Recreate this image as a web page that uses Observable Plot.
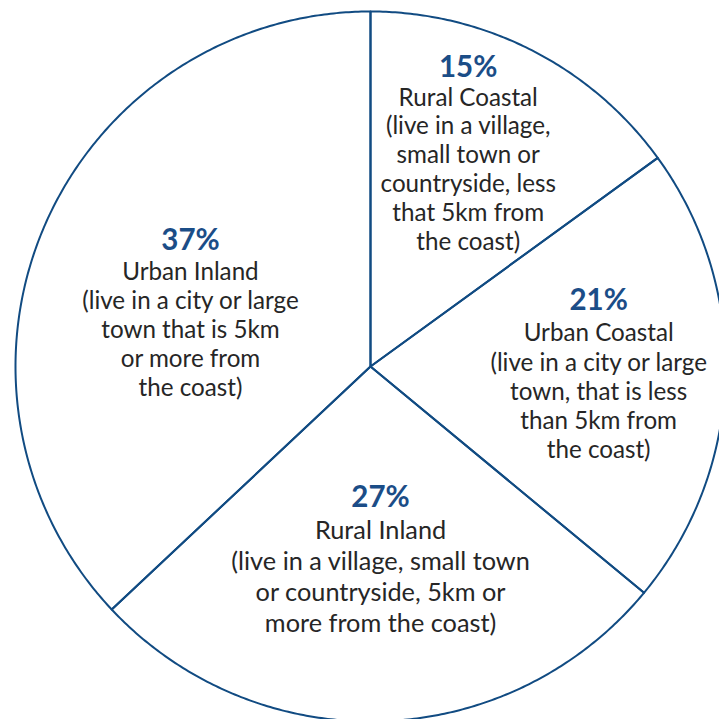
<!DOCTYPE html>
<html>
<head>
<meta charset="utf-8">
<script src="https://cdn.jsdelivr.net/npm/d3@7"></script>
<script src="https://cdn.jsdelivr.net/npm/@observablehq/plot@0.6"></script>
<style>
  html, body { margin: 0; padding: 0; background: #fff; }
  #chart { width: 719px; height: 719px; overflow: hidden; }
</style>
</head>
<body>
<div id="chart"></div>
<script>
// ---- data ----
const categories = ["Rural Coastal", "Urban Coastal", "Rural Inland", "Urban Inland"];
const shares = [15, 21, 27, 37];
const descriptions = [
  "(live in a village,\nsmall town or\ncountryside, less\nthat 5km from\nthe coast)",
  "(live in a city or large\ntown, that is less\nthan 5km from\nthe coast)",
  "(live in a village, small town\nor countryside, 5km or\nmore from the coast)",
  "(live in a city or large\ntown that is 5km\nor more from\nthe coast)"
];

// ---- layout (not data) ----
const W = 719, H = 719;
const CX = 370, CY = 366, R = 355;           // pixel centre / radius of the pie
const labelPolar = [[18.1, 0.886], [73.9, 0.669], [175.6, 0.370], [305, 0.619]]; // angle (deg from 12 o'clock), radius fraction
const descSize = [24.2, 24.2, 25.3, 24.2];
const descLine = [1.19, 1.2, 1.225, 1.2];
const descGap = [32, 34.5, 34, 33];          // px from percentage to first description line
const navy = "#114b82";
const pctColor = "#1b4d87";
const textColor = "#262626";

// pie geometry in data units (radius = 1), clockwise from 12 o'clock
const total = d3.sum(shares);
const slices = [];
let acc = 0;
shares.forEach((v, i) => {
  const a0 = acc / total * 2 * Math.PI;
  acc += v;
  const a1 = acc / total * 2 * Math.PI;
  slices.push({ name: categories[i], a0, a1 });
});

const outline = [];
slices.forEach(s => {
  outline.push({ name: s.name, x: 0, y: 0 });
  const n = Math.max(8, Math.ceil((s.a1 - s.a0) / (Math.PI / 360)));
  for (let k = 0; k <= n; k++) {
    const a = s.a0 + (s.a1 - s.a0) * k / n;
    outline.push({ name: s.name, x: Math.sin(a), y: Math.cos(a) });
  }
  outline.push({ name: s.name, x: 0, y: 0 });
});

const labels = categories.map((c, i) => {
  const a = labelPolar[i][0] * Math.PI / 180, r = labelPolar[i][1];
  return {
    name: c,
    pct: shares[i] + "%",
    desc: c + "\n" + descriptions[i],
    size: descSize[i],
    lh: descLine[i],
    gap: descGap[i],
    x: r * Math.sin(a),
    y: r * Math.cos(a)
  };
});

const font = "Lato, 'Open Sans', sans-serif";

const chart = Plot.plot({
  width: W,
  height: H,
  margin: 0,
  style: { fontFamily: font, background: "#fff", overflow: "hidden" },
  x: { type: "linear", domain: [-CX / R, (W - CX) / R], range: [0, W], axis: null },
  y: { type: "linear", domain: [-(H - CY) / R, CY / R], range: [H, 0], axis: null },
  marks: [
    Plot.line(outline, {
      x: "x", y: "y", z: "name",
      stroke: navy, strokeWidth: 2, strokeLinejoin: "round", fill: "none",
      curve: "linear", clip: true
    }),
    Plot.text(labels, {
      x: "x", y: "y", text: "pct",
      fill: pctColor, fontSize: 29.5, fontWeight: "bold",
      lineAnchor: "middle", textAnchor: "middle"
    }),
    ...labels.map(l => Plot.text([l], {
      x: "x", y: "y", text: "desc",
      fill: textColor, fontSize: l.size, lineHeight: l.lh,
      lineAnchor: "top", textAnchor: "middle",
      dy: l.gap - 0.59 * l.size
    }))
  ]
});

document.getElementById("chart").appendChild(chart);
</script>
</body>
</html>
